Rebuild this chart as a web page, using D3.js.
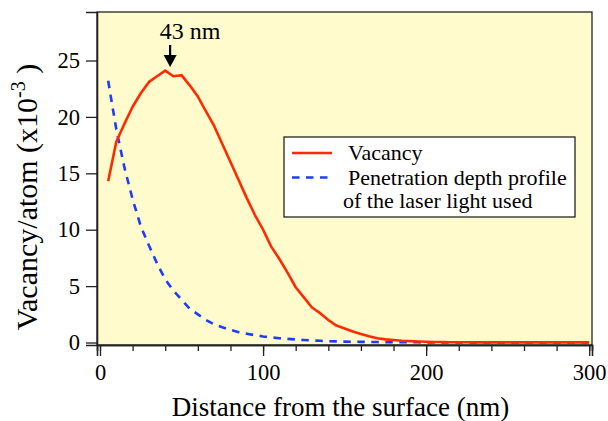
<!DOCTYPE html>
<html>
<head>
<meta charset="utf-8">
<script src="https://cdn.jsdelivr.net/npm/d3@7"></script>
<style>
  html, body { margin: 0; padding: 0; background: #ffffff; }
  svg { display: block; }
  text { font-family: "Liberation Serif", "Times New Roman", Times, serif; fill: #000; }
</style>
</head>
<body>
<svg id="chart" width="608" height="421"></svg>
<script>
// Depth below the surface (nm), 5 nm bins
const depthNm = [
  5, 10, 15, 20, 25, 30, 35, 40, 45, 50,
  55, 60, 65, 70, 75, 80, 85, 90, 95, 100,
  105, 110, 115, 120, 125, 130, 135, 140, 145, 150,
  155, 160, 165, 170, 175, 180, 185, 190, 195, 200,
  205, 210, 215, 220, 225, 230, 235, 240, 245, 250,
  255, 260, 265, 270, 275, 280, 285, 290, 295, 300
];

// Vacancies per atom (x10^-3)
const vacancy = [
  14.3, 17.8, 19.4, 20.9, 22.1, 23.1, 23.6, 24.1, 23.6, 23.7,
  22.8, 21.8, 20.5, 19.2, 17.6, 16.0, 14.4, 12.8, 11.3, 10.0,
  8.5, 7.4, 6.2, 4.9, 4.0, 3.1, 2.6, 2.0, 1.5, 1.25,
  0.98, 0.75, 0.55, 0.38, 0.28, 0.22, 0.16, 0.12, 0.09, 0.07,
  0.05, 0.04, 0.03, 0.02, 0.02, 0.01, 0.01, 0.01, 0.01, 0.01,
  0.01, 0.01, 0.01, 0.01, 0.01, 0.01, 0.01, 0.01, 0.01, 0.01
];

// Laser light penetration profile, on the same vertical scale
const penetration = [
  23.2, 18.9, 15.5, 12.7, 10.3, 8.6, 7.0, 5.6, 4.6, 3.8,
  3.0, 2.5, 2.0, 1.62, 1.35, 1.12, 0.92, 0.78, 0.65, 0.54,
  0.45, 0.38, 0.32, 0.27, 0.22, 0.18, 0.15, 0.12, 0.1, 0.08,
  0.07, 0.06, 0.05, 0.04, 0.03, 0.03, 0.02, 0.02, 0.02, 0.01,
  0.01, 0.01, 0.01, 0.01, 0.01, 0.01, 0.01, 0.01, 0.01, 0.01,
  0.01, 0.01, 0.01, 0.01, 0.01, 0.01, 0.01, 0.01, 0.01, 0.01
];

const xMajorTicks = [0, 100, 200, 300];
const xMinorTicks = [0, 20, 40, 60, 80, 100, 120, 140, 160, 180, 200, 220, 240, 260, 280, 300];
const yTicks = [0, 5, 10, 15, 20, 25];

const peakDepth = 43;
const peakLabel = "43 nm";
const legendLabels = ["Vacancy", "Penetration depth profile", "of the laser light used"];

const RED = "#ff2a00";
const BLUE = "#1e3cff";
const PLOT_BG = "#fffbcc";

const svg = d3.select("#chart");

const plot = { left: 97, right: 592, top: 12, bottom: 345 };

const x = d3.scaleLinear().domain([-1.84, 301.7]).range([plot.left, plot.right]);
const y = d3.scaleLinear().domain([-0.22, 29.3]).range([plot.bottom, plot.top]);

// Plot background and frame
svg.append("rect")
  .attr("x", plot.left).attr("y", plot.top)
  .attr("width", plot.right - plot.left).attr("height", plot.bottom - plot.top)
  .attr("fill", PLOT_BG)
  .attr("stroke", "#111").attr("stroke-width", 1.2);

// Axes
const xMinor = d3.axisBottom(x).tickValues(xMinorTicks).tickSize(6).tickFormat("");
const xMajor = d3.axisBottom(x).tickValues(xMajorTicks).tickSize(11).tickPadding(8).tickFormat(d3.format("d"));
const yAxis = d3.axisLeft(y).tickValues(yTicks).tickSize(11).tickPadding(6).tickFormat(d3.format("d"));

const gxMinor = svg.append("g").attr("transform", `translate(0,${plot.bottom})`).call(xMinor);
const gxMajor = svg.append("g").attr("transform", `translate(0,${plot.bottom})`).call(xMajor);
const gy = svg.append("g").attr("transform", `translate(${plot.left},0)`).call(yAxis);

[gxMinor, gxMajor, gy].forEach(g => {
  g.select(".domain").attr("stroke", "#222").attr("stroke-width", 1.6);
  g.selectAll(".tick line").attr("stroke", "#222").attr("stroke-width", 1.3);
  g.selectAll(".tick text")
    .style("font-family", '"Liberation Serif", "Times New Roman", serif')
    .style("font-size", "22.5px").attr("fill", "#000");
});

// Curves
const pts = (vals) => depthNm.map((d, i) => [d, vals[i]]);
const line = d3.line().x(d => x(d[0])).y(d => y(d[1]));

svg.append("path")
  .datum(pts(penetration))
  .attr("d", line)
  .attr("fill", "none")
  .attr("stroke", BLUE)
  .attr("stroke-width", 2.6)
  .attr("stroke-dasharray", "7.5,6.5");

svg.append("path")
  .datum(pts(vacancy))
  .attr("d", line)
  .attr("fill", "none")
  .attr("stroke", RED)
  .attr("stroke-width", 2.6)
  .attr("stroke-linejoin", "round");

// Peak marker
const ax = x(peakDepth);
svg.append("text")
  .attr("x", ax + 20).attr("y", 39)
  .attr("text-anchor", "middle")
  .style("font-size", "24px")
  .text(peakLabel);
svg.append("line")
  .attr("x1", ax).attr("x2", ax)
  .attr("y1", 45).attr("y2", 57)
  .attr("stroke", "#000").attr("stroke-width", 2.2);
svg.append("path")
  .attr("d", `M${ax - 6.5},55 L${ax + 6.5},55 L${ax},67 Z`)
  .attr("fill", "#000");

// Legend
const lg = svg.append("g");
lg.append("rect")
  .attr("x", 284).attr("y", 137)
  .attr("width", 291).attr("height", 80)
  .attr("fill", "#fff").attr("stroke", "#111").attr("stroke-width", 1.2);
lg.append("line")
  .attr("x1", 292).attr("x2", 332).attr("y1", 153).attr("y2", 153)
  .attr("stroke", RED).attr("stroke-width", 2.6);
lg.append("line")
  .attr("x1", 292).attr("x2", 332).attr("y1", 177.5).attr("y2", 177.5)
  .attr("stroke", BLUE).attr("stroke-width", 2.6)
  .attr("stroke-dasharray", "7.5,6.5");
lg.append("text").attr("x", 348).attr("y", 159.5).style("font-size", "22px").text(legendLabels[0]);
lg.append("text").attr("x", 348).attr("y", 184.5).style("font-size", "22px").text(legendLabels[1]);
lg.append("text").attr("x", 343).attr("y", 207.5).style("font-size", "22px").text(legendLabels[2]);

// Axis titles
svg.append("text")
  .attr("x", 340.5).attr("y", 416)
  .attr("text-anchor", "middle")
  .style("font-size", "27px")
  .text("Distance from the surface (nm)");

const yt = svg.append("text")
  .attr("transform", "translate(37,197) rotate(-90)")
  .attr("text-anchor", "middle")
  .style("font-size", "30px");
yt.append("tspan").text("Vacancy/atom (x10");
yt.append("tspan").attr("dy", -12).style("font-size", "20px").text("-3");
yt.append("tspan").attr("dy", 12).text(" )");
</script>
</body>
</html>
